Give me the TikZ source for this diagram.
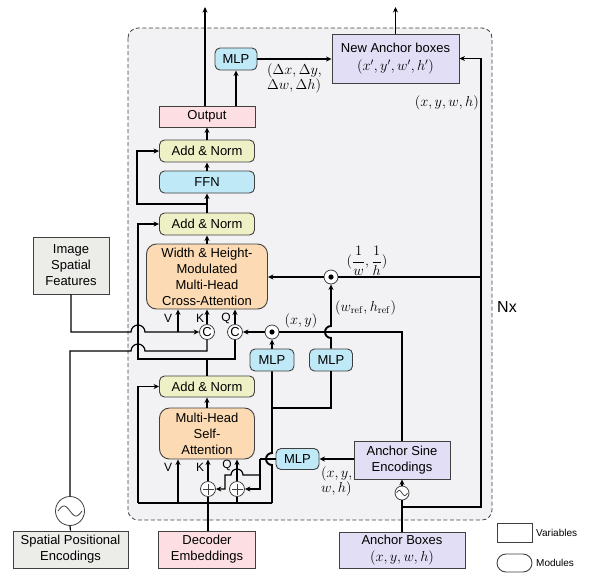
\documentclass[tikz,border=0pt]{standalone}
\usepackage[no-math]{fontspec}
\setmainfont{Liberation Sans}
\usepackage{amsmath}
\DeclareMathSizes{13}{14.4}{10}{7}
\usetikzlibrary{arrows.meta}
\definecolor{bggray}{RGB}{242,242,244}
\definecolor{cyanf}{RGB}{191,233,247}
\definecolor{yelf}{RGB}{238,240,197}
\definecolor{orf}{RGB}{252,219,180}
\definecolor{pinkf}{RGB}{253,222,226}
\definecolor{lavf}{RGB}{226,222,245}
\definecolor{grayf}{RGB}{236,237,233}
\definecolor{edgec}{RGB}{64,64,64}
\tikzset{
  box/.style={draw=edgec, line width=0.9pt, align=center, inner sep=0pt, font=\fontsize{13}{16}\selectfont},
  varbox/.style={box},
  modbox/.style={box, rounded corners=5pt},
  attbox/.style={box, rounded corners=10pt, fill=orf},
  ln/.style={line width=1.2pt},
  tk/.style={line width=1.9pt},
  arr/.style={-{Stealth[length=5.5pt,width=5pt]}},
  opc/.style={circle, draw=edgec, fill=white, line width=0.8pt, minimum size=15pt, inner sep=0pt, font=\fontsize{13}{13}\selectfont},
  lab/.style={inner sep=0pt, font=\fontsize{12}{14}\selectfont},
  mlab/.style={inner sep=0pt, align=left, font=\fontsize{13}{15}\selectfont},
  sym/.style={line width=0.8pt, draw=edgec},
}
\begin{document}
\begin{tikzpicture}[x=1pt,y=-1pt]
\useasboundingbox (0,0) rectangle (591,579);
\draw[draw=edgec, dash pattern=on 4pt off 2.5pt, line width=0.8pt, fill=bggray, rounded corners=10pt] (128,28) rectangle (492,520);

% nodes
\node[modbox, fill=cyanf, minimum width=42pt, minimum height=22pt] (mlpTop) at (236,59) {MLP};
\node[varbox, fill=lavf, minimum width=127pt, minimum height=49pt] (newAnchor) at (395.5,58.5) {New Anchor boxes\\[2pt]$(x',y',w',h')$};
\node[varbox, fill=pinkf, minimum width=96pt, minimum height=21pt] (output) at (207,116.5) {Output};
\node[modbox, fill=yelf, minimum width=95pt, minimum height=22pt] (an3) at (207,151) {Add \& Norm};
\node[modbox, fill=cyanf, minimum width=95pt, minimum height=22pt] (ffn) at (207,182) {FFN};
\node[modbox, fill=yelf, minimum width=95pt, minimum height=22pt] (an2) at (207,224) {Add \& Norm};
\node[attbox, minimum width=121pt, minimum height=65pt] (cross) at (207,276.5) {Width \& Height-\\Modulated\\Multi-Head\\Cross-Attention};
\node[modbox, fill=yelf, minimum width=95pt, minimum height=21pt] (an1) at (207,386.5) {Add \& Norm};
\node[attbox, minimum width=95pt, minimum height=51pt] (self) at (207,433.5) {Multi-Head\\Self-\\Attention};
\node[varbox, fill=grayf, minimum width=76pt, minimum height=57pt] (imgF) at (71,265.5) {Image\\Spatial\\Features};
\node[varbox, fill=grayf, minimum width=115pt, minimum height=37pt] (spe) at (70.5,549.5) {Spatial Positional\\Encodings};
\node[varbox, fill=pinkf, minimum width=97pt, minimum height=37pt] (dec) at (207,549.5) {Decoder\\Embeddings};
\node[varbox, fill=lavf, minimum width=126pt, minimum height=36pt] (anchorB) at (402,550) {Anchor Boxes\\[1pt]$(x,y,w,h)$};
\node[varbox, fill=lavf, minimum width=96pt, minimum height=38pt] (ase) at (402,460) {Anchor Sine\\Encodings};
\node[modbox, fill=cyanf, minimum width=43pt, minimum height=21pt] (mlpS) at (297.5,459) {MLP};
\node[modbox, fill=cyanf, minimum width=44pt, minimum height=22pt] (mlpC1) at (272,360) {MLP};
\node[modbox, fill=cyanf, minimum width=43pt, minimum height=22pt] (mlpC2) at (331,360) {MLP};

% operator circles
\node[opc] (cK) at (207,332) {C};
\node[opc] (cQ) at (235,332) {C};
\node[opc, minimum size=14pt] (dXY) at (272,332) {};
\node[opc, minimum size=14pt] (dWH) at (331,277) {};
\node[opc] (pK) at (208,489) {};
\node[opc] (pQ) at (237,489) {};
\node[opc, minimum size=29pt] (sB) at (70,511) {};
\node[opc, minimum size=14pt] (sS) at (402,493) {};
\fill (dXY.center) circle (2.6pt);
\fill (dWH.center) circle (2.6pt);
\foreach \p in {pK,pQ}{
  \draw[sym] (\p.center) ++(-5.5,0) -- ++(11,0);
  \draw[sym] (\p.center) ++(0,-5.5) -- ++(0,11);
}
\draw[sym, shift={(sB.center)}] plot[domain=-12:12, samples=50, smooth] (\x,{5*sin(15*\x)});
\draw[sym, line width=0.7pt, shift={(sS.center)}] plot[domain=-5.5:5.5, samples=30, smooth] (\x,{2.5*sin(32.7*\x)});

% top outputs
\coordinate (outUp) at (205,7);
\draw[tk,arr] (outUp |- output.north) -- (outUp);
\draw[tk,arr] (newAnchor.north) -- (newAnchor.north |- outUp);
\draw[tk,arr] (mlpTop.south |- output.north) -- (mlpTop.south);
\draw[ln,arr] (mlpTop.east) -- (newAnchor.west |- mlpTop.east);

% anchor boxes path
\coordinate (rJ) at (402,507);
\coordinate (rC) at (481,507);
\draw[tk] (anchorB.north) -- (sS.south);
\draw[tk,arr] (sS.north) -- (ase.south);
\draw[tk,arr] (rJ) -- (rC) -- (rC |- newAnchor.east) -- (newAnchor.east);
\draw[tk] (rC |- dWH.east) -- (dWH.east);
\draw[tk,arr] (dWH.west) -- (cross.east |- dWH.west);
\draw[tk,arr] (mlpC2.north) -- (331,338) arc[start angle=90, end angle=270, radius=6] -- (dWH.south);
\draw[tk,arr] (mlpC1.north) -- (dXY.south);
\draw[ln] (ase.north) -- (ase.north |- dXY.east) -- (dXY.east);
\draw[tk,arr] (dXY.west) -- (cQ.east);
\draw[tk,arr] (cQ.north) -- (cQ.north |- cross.south);
\draw[tk,arr] (cK.north) -- (cK.north |- cross.south);

% image features & spatial encodings
\coordinate (vC) at (178,332);
\draw[ln,arr] (imgF.south) -- (imgF.south |- vC) -- (131,332) arc[start angle=180, end angle=360, radius=7] -- (cK.west);
\draw[tk,arr] (vC) -- (vC |- cross.south);
\draw[ln] (spe.north) -- (sB.south);
\draw[ln] (sB.north) -- (70,351) -- (131,351) arc[start angle=180, end angle=360, radius=7] -- (207,351) -- (cK.south);

% middle column
\coordinate (j1) at (207,359);
\draw[ln] (an1.north) -- (j1) -- (j1 -| cQ.south) -- (cQ.south);
\draw[ln,arr] (j1) -- (138,359) -- (138,224) -- (an2.west);
\draw[ln,arr] (cross.north) -- (an2.south);
\draw[ln,arr] (an2.north) -- (ffn.south);
\draw[ln,arr] (ffn.north) -- (an3.south);
\draw[ln,arr] (an3.north) -- (output.south);
\coordinate (j2) at (207,204);
\draw[ln,arr] (j2) -- (137,204) -- (137,151) -- (an3.west);
\draw[ln,arr] (self.north) -- (an1.south);

% decoder embeddings
\draw[tk] (pK.south |- dec.north) -- (pK.south);
\draw[tk,arr] (pK.north) -- (pK.north |- self.south);
\coordinate (bl) at (138,503);
\coordinate (br) at (272,503);
\coordinate (vS) at (178,503);
\draw[tk] (bl) -- (br);
\draw[tk,arr] (bl) -- (bl |- an1.west) -- (an1.west);
\draw[tk,arr] (vS) -- (vS |- self.south);
\draw[tk] (pQ.south |- bl) -- (pQ.south);
\draw[tk,arr] (pQ.north) -- (pQ.north |- self.south);
\draw[tk] (br) -- (272,465) arc[start angle=90, end angle=270, radius=6] -- (mlpC1.south);
\coordinate (j3) at (272,408);
\draw[ln] (j3) -- (j3 -| mlpC2.south) -- (mlpC2.south);

% self-attention positional MLP
\draw[tk,arr] (ase.west |- mlpS.east) -- (mlpS.east);
\coordinate (m1) at (260,459);
\coordinate (m2) at (260,475);
\draw[ln] (mlpS.west) -- (m1);
\draw[ln,arr] (m1) -- (260,489) -- (pQ.east);
\draw[ln,arr] (m2) -- (243,475) arc[start angle=0, end angle=-180, radius=6] -- (225,475) -- (225,489) -- (pK.east);

% labels
\node[lab] at (168,318) {V};
\node[lab] at (200,318) {K};
\node[lab] at (226,318) {Q};
\node[lab] at (168,467) {V};
\node[lab] at (200,467) {K};
\node[lab] at (227,465) {Q};
\node[mlab, anchor=north west] at (267,63) {$(\Delta x,\Delta y,$\\$\Delta w,\Delta h)$};
\node[mlab, anchor=east] at (479,103) {$(x,y,w,h)$};
\node[mlab] at (367,261) {$(\dfrac{1}{w},\dfrac{1}{h})$};
\node[mlab, anchor=west] at (335,308) {$(w_{\mathrm{ref}},h_{\mathrm{ref}})$};
\node[mlab] at (301,321) {$(x,y)$};
\node[mlab, anchor=north west] at (321,466) {$(x,y,$\\$w,h)$};
\node[inner sep=0pt, font=\fontsize{16}{16}\selectfont] (nx) at (507,307) {Nx};

% legend
\node[varbox, fill=white, minimum width=35pt, minimum height=19pt] (legV) at (514.5,532.5) {};
\node[modbox, fill=white, rounded corners=9pt, minimum width=35pt, minimum height=18pt] (legM) at (514.5,563) {};
\node[anchor=west, inner sep=0pt, font=\fontsize{10}{12}\selectfont] (legVt) at (536,532.5) {Variables};
\node[anchor=west, inner sep=0pt, font=\fontsize{10}{12}\selectfont] (legMt) at (536,563) {Modules};
\end{tikzpicture}
\end{document}
